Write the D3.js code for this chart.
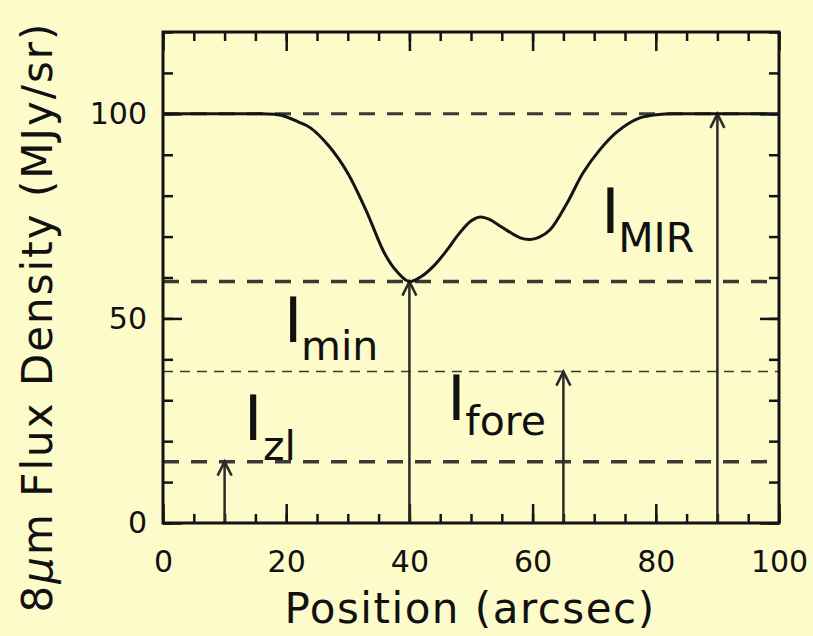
<!DOCTYPE html>
<html>
<head>
<meta charset="utf-8">
<script src="https://cdn.jsdelivr.net/npm/d3@7"></script>
<style>
  html, body { margin: 0; padding: 0; background: #fcfbc9; }
  svg { display: block; }
  text { font-family: "DejaVu Sans", sans-serif; fill: #111; }
</style>
</head>
<body>
<svg id="chart" width="813" height="636"></svg>
<script>
// Profile of 8 micron flux density across the cloud
const positions = [0, 10, 16, 19, 22, 24, 27, 30, 33, 36, 38, 40, 42, 44, 46, 48, 50, 51.5, 53, 54.7, 58, 59.6, 61, 62.8, 65.6, 68.2, 70.9, 73.7, 77.4, 81, 85, 100];
const flux      = [100, 100, 100, 99.7, 98, 96.5, 92, 85.5, 76.3, 65.8, 61.4, 59, 60.3, 62.9, 66.5, 70.6, 73.8, 74.8, 74.2, 72.6, 69.7, 69.3, 69.8, 71.6, 78.2, 85.6, 91.2, 95.6, 99, 99.9, 100, 100];

// Reference intensity levels and the arrows that mark them
const levelNames  = ["MIR", "min", "fore", "zl"];
const levelValues = [100, 59, 37, 15];
const arrowX      = [90, 40, 65, 10];

const xTicksMajor = [0, 20, 40, 60, 80, 100];
const yTicksMajor = [0, 50, 100];

const svg = d3.select("#chart");
const W = 813, H = 636;
const plotL = 163, plotR = 779, plotT = 32, plotB = 523;

svg.append("rect").attr("width", W).attr("height", H).attr("fill", "#fcfbc9");

const x = d3.scaleLinear().domain([0, 100]).range([plotL, plotR]);
const y = d3.scaleLinear().domain([0, 120]).range([plotB, plotT]);

const ink = "#141414";

// Minor and major ticks on all four sides, pointing inward
const xMinor = d3.range(0, 101, 5);
const yMinor = d3.range(0, 121, 10);

function styleAxis(g) {
  g.select(".domain").remove();
  g.selectAll(".tick line").attr("stroke", ink).attr("stroke-width", 2.5);
  g.selectAll("text").style("font-size", "30px").attr("fill", ink);
}

svg.append("g").attr("transform", `translate(0,${plotB})`)
  .call(d3.axisBottom(x).tickValues(xMinor).tickSize(-9).tickFormat(""))
  .call(styleAxis);
svg.append("g").attr("transform", `translate(0,${plotB})`)
  .call(d3.axisBottom(x).tickValues(xTicksMajor).tickSize(-19).tickPadding(28).tickFormat(d3.format("d")))
  .call(styleAxis);
svg.append("g").attr("transform", `translate(0,${plotT})`)
  .call(d3.axisTop(x).tickValues(xMinor).tickSize(-9).tickFormat(""))
  .call(styleAxis);
svg.append("g").attr("transform", `translate(0,${plotT})`)
  .call(d3.axisTop(x).tickValues(xTicksMajor).tickSize(-19).tickFormat(""))
  .call(styleAxis);

svg.append("g").attr("transform", `translate(${plotL},0)`)
  .call(d3.axisLeft(y).tickValues(yMinor).tickSize(-10).tickFormat(""))
  .call(styleAxis);
svg.append("g").attr("transform", `translate(${plotL},0)`)
  .call(d3.axisLeft(y).tickValues(yTicksMajor).tickSize(-19).tickPadding(16).tickFormat(d3.format("d")))
  .call(styleAxis);
svg.append("g").attr("transform", `translate(${plotR},0)`)
  .call(d3.axisRight(y).tickValues(yMinor).tickSize(-10).tickFormat(""))
  .call(styleAxis);
svg.append("g").attr("transform", `translate(${plotR},0)`)
  .call(d3.axisRight(y).tickValues(yTicksMajor).tickSize(-19).tickFormat(""))
  .call(styleAxis);

// Horizontal level lines
const levelStyle = {
  100: { w: 3, dash: "16,12" },
  59:  { w: 3.5, dash: "16,12" },
  37:  { w: 1.5, dash: "10,7" },
  15:  { w: 3.5, dash: "16,12" }
};
svg.append("g").selectAll("line").data(levelValues).join("line")
  .attr("x1", x(0)).attr("x2", x(100))
  .attr("y1", d => y(d)).attr("y2", d => y(d))
  .attr("stroke", "#3a3a35")
  .attr("stroke-width", d => levelStyle[d].w)
  .attr("stroke-dasharray", d => levelStyle[d].dash);

// Arrows from zero up to each level
const arrows = svg.append("g").attr("stroke", "#2a2a2a").attr("fill", "none").attr("stroke-width", 2.5);
levelValues.forEach((v, i) => {
  const ax = x(arrowX[i]), ay = y(v);
  arrows.append("line").attr("x1", ax).attr("x2", ax).attr("y1", y(0)).attr("y2", ay);
  arrows.append("path").attr("d", `M${ax - 7},${ay + 14} L${ax},${ay} L${ax + 7},${ay + 14}`);
});

// Flux profile
const line = d3.line().x((d, i) => x(positions[i])).y(d => y(d)).curve(d3.curveCatmullRom.alpha(0.5));
svg.append("path").datum(flux)
  .attr("d", line)
  .attr("fill", "none").attr("stroke", ink).attr("stroke-width", 3);

// Frame
svg.append("rect")
  .attr("x", plotL).attr("y", plotT).attr("width", plotR - plotL).attr("height", plotB - plotT)
  .attr("fill", "none").attr("stroke", ink).attr("stroke-width", 3);

// Level labels: large I with subscript
const labelAt = {
  MIR:  { px: 72.6, py: 70.9, sx: 8, sy: 19 },
  min:  { px: 21.1, py: 44.3, sx: 8, sy: 18 },
  fore: { px: 47.6, py: 25.2, sx: 9, sy: 15 },
  zl:   { px: 14.6, py: 20.3, sx: 10, sy: 20 }
};
levelNames.forEach(name => {
  const p = labelAt[name];
  const g = svg.append("g").attr("transform", `translate(${x(p.px)},${y(p.py)})`);
  g.append("text").attr("x", -9).attr("y", 0).style("font-size", "62px").text("I");
  g.append("text").attr("x", p.sx).attr("y", p.sy).style("font-size", "41px").text(name);
});

// Axis titles
svg.append("text")
  .attr("x", 470).attr("y", 623)
  .attr("text-anchor", "middle")
  .style("font-size", "42px").style("letter-spacing", "1.5px")
  .text("Position (arcsec)");

const yTitle = svg.append("text")
  .attr("transform", "translate(52,317) rotate(-90)")
  .attr("text-anchor", "middle")
  .style("font-size", "42px").style("letter-spacing", "2px");
yTitle.append("tspan").text("8");
yTitle.append("tspan").style("font-style", "italic").text("\u03bc");
yTitle.append("tspan").text("m Flux Density (MJy/sr)");
</script>
</body>
</html>
